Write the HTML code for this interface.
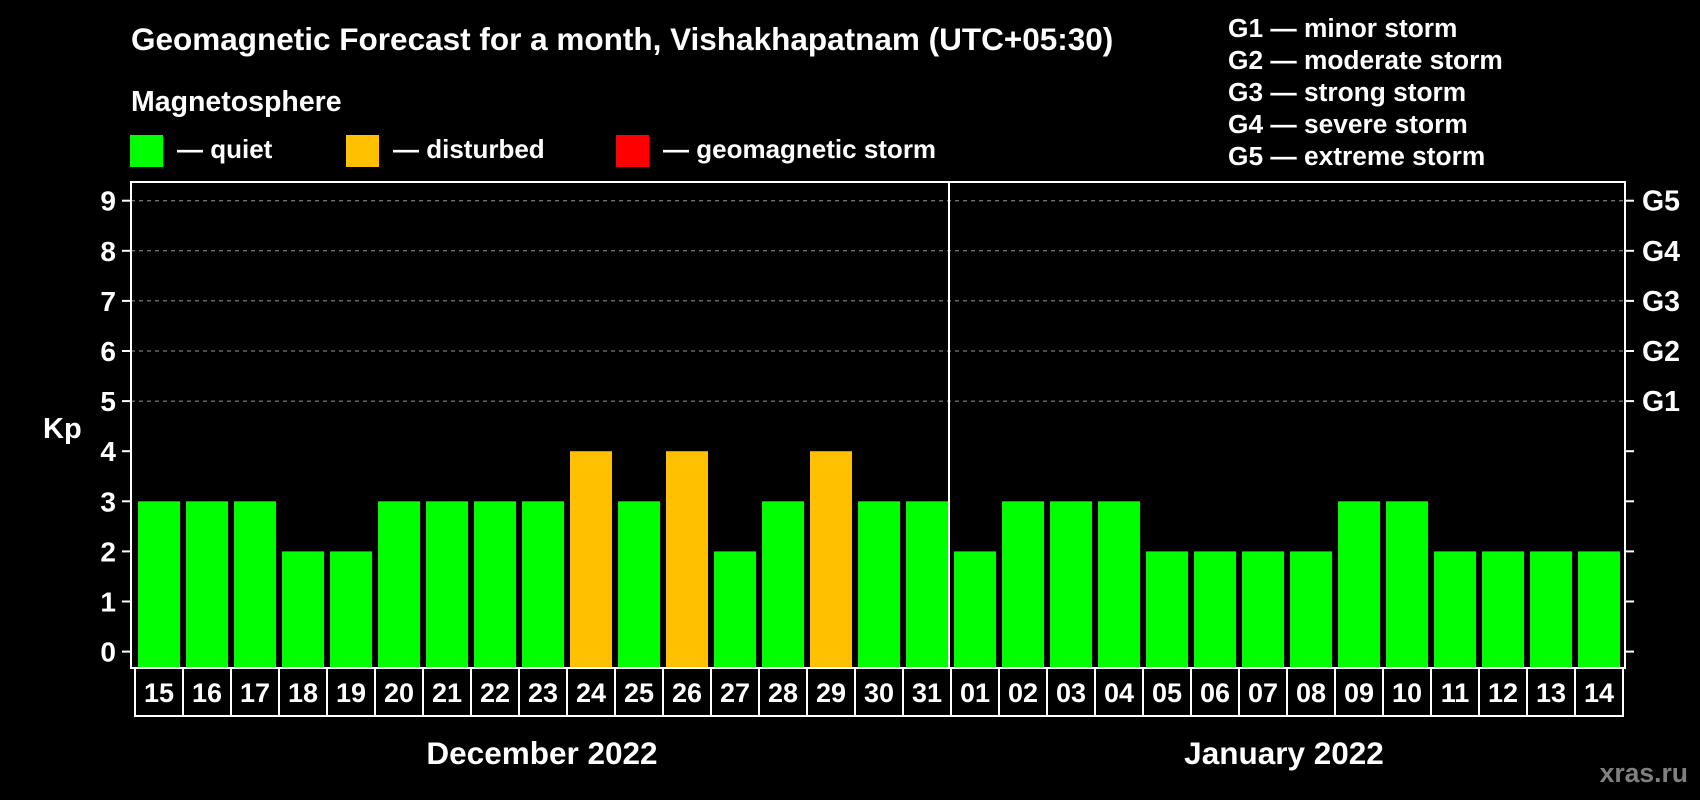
<!DOCTYPE html>
<html><head><meta charset="utf-8"><style>
html,body{margin:0;padding:0;background:#000;}
svg{display:block;font-family:"Liberation Sans",Arial,sans-serif;font-weight:bold;}
</style></head><body>
<svg id="chart" width="1700" height="800" viewBox="0 0 1700 800" xmlns="http://www.w3.org/2000/svg">
<rect width="1700" height="800" fill="#000"/>
<text x="131" y="50" fill="#fff" font-size="31.5">Geomagnetic Forecast for a month, Vishakhapatnam (UTC+05:30)</text>
<text x="131" y="111" fill="#fff" font-size="28.5">Magnetosphere</text>
<g><rect x="130" y="135" width="33" height="32" fill="#00ff00"/><text x="177" y="158" fill="#fff" font-size="26">— quiet</text></g>
<g><rect x="346" y="135" width="33" height="32" fill="#ffc000"/><text x="393" y="158" fill="#fff" font-size="26">— disturbed</text></g>
<g><rect x="616" y="135" width="33" height="32" fill="#ff0000"/><text x="663" y="158" fill="#fff" font-size="26">— geomagnetic storm</text></g>
<g fill="#fff" font-size="26.3">
<text x="1228" y="37">G1 — minor storm</text>
<text x="1228" y="69">G2 — moderate storm</text>
<text x="1228" y="101">G3 — strong storm</text>
<text x="1228" y="133">G4 — severe storm</text>
<text x="1228" y="165">G5 — extreme storm</text>
</g>
<text x="43" y="438" fill="#fff" font-size="29">Kp</text>
<g id="grid"></g><g id="bars"></g><g id="axes"></g>
<text x="542" y="764" fill="#fff" font-size="31.5" text-anchor="middle">December 2022</text>
<text x="1284" y="764" fill="#fff" font-size="31.5" text-anchor="middle">January 2022</text>
<text x="1688" y="782" fill="#808080" font-size="26.5" text-anchor="end">xras.ru</text>
</svg>
<script>
const days = ["15","16","17","18","19","20","21","22","23","24","25","26","27","28","29","30","31","01","02","03","04","05","06","07","08","09","10","11","12","13","14"];
const kpValues = [3,3,3,2,2,3,3,3,3,4,3,4,2,3,4,3,3,2,3,3,3,2,2,2,2,3,3,2,2,2,2];
const yTicks = [0,1,2,3,4,5,6,7,8,9];
const gLabels = ["G1","G2","G3","G4","G5"];
const gLevels = [5,6,7,8,9];

const NS="http://www.w3.org/2000/svg";
const L=131,R=1625,T=182,B=668,slotX0=135,slot=48;
function y(v){return 651.6-50.1*v;}
function x(i){return slotX0+slot*i;}
function mk(tag,attrs,parent){const e=document.createElementNS(NS,tag);for(const k in attrs)e.setAttribute(k,attrs[k]);parent.appendChild(e);return e;}
const grid=document.getElementById('grid'),bars=document.getElementById('bars'),axes=document.getElementById('axes');
gLevels.forEach(v=>{
  const l=mk('line',{x1:L,x2:R,y1:y(v),y2:y(v),stroke:'#9a9a9a','stroke-width':1,'stroke-dasharray':'4,4'},grid);
  
  
});
kpValues.forEach((v,i)=>{
  const r=mk('rect',{x:x(i)+3,y:y(v),width:42,height:B-1-y(v),fill:v>=5?'#ff0000':(v>=4?'#ffc000':'#00ff00')},bars);
  
  
});
const fr=mk('rect',{x:L,y:T,width:R-L,height:B-T,fill:'none',stroke:'#fff','stroke-width':2},axes);


const dv=mk('line',{x1:x(17)-2,x2:x(17)-2,y1:T,y2:B,stroke:'#fff','stroke-width':2},axes);


yTicks.forEach(v=>{
  mk('line',{x1:L-9,x2:L,y1:y(v),y2:y(v),stroke:'#fff','stroke-width':2},axes);
  mk('line',{x1:R,x2:R+9,y1:y(v),y2:y(v),stroke:'#fff','stroke-width':2},axes);
  const t=mk('text',{x:116,y:y(v)+10,fill:'#fff','font-size':28,'text-anchor':'end'},axes);
  t.textContent=v;
  
  
});
gLevels.forEach((v,i)=>{
  const t=mk('text',{x:1642,y:y(v)+10,fill:'#fff','font-size':28.5},axes);
  t.textContent=gLabels[i];
  
  
});
days.forEach((d,i)=>{
  const c=mk('rect',{x:x(i),y:B,width:slot,height:48,fill:'none',stroke:'#fff','stroke-width':2},axes);
  
  
  const t=mk('text',{x:x(i)+slot/2,y:B+34,fill:'#fff','font-size':27,'text-anchor':'middle'},axes);
  t.textContent=d;
  
  
});
</script>
</body></html>
